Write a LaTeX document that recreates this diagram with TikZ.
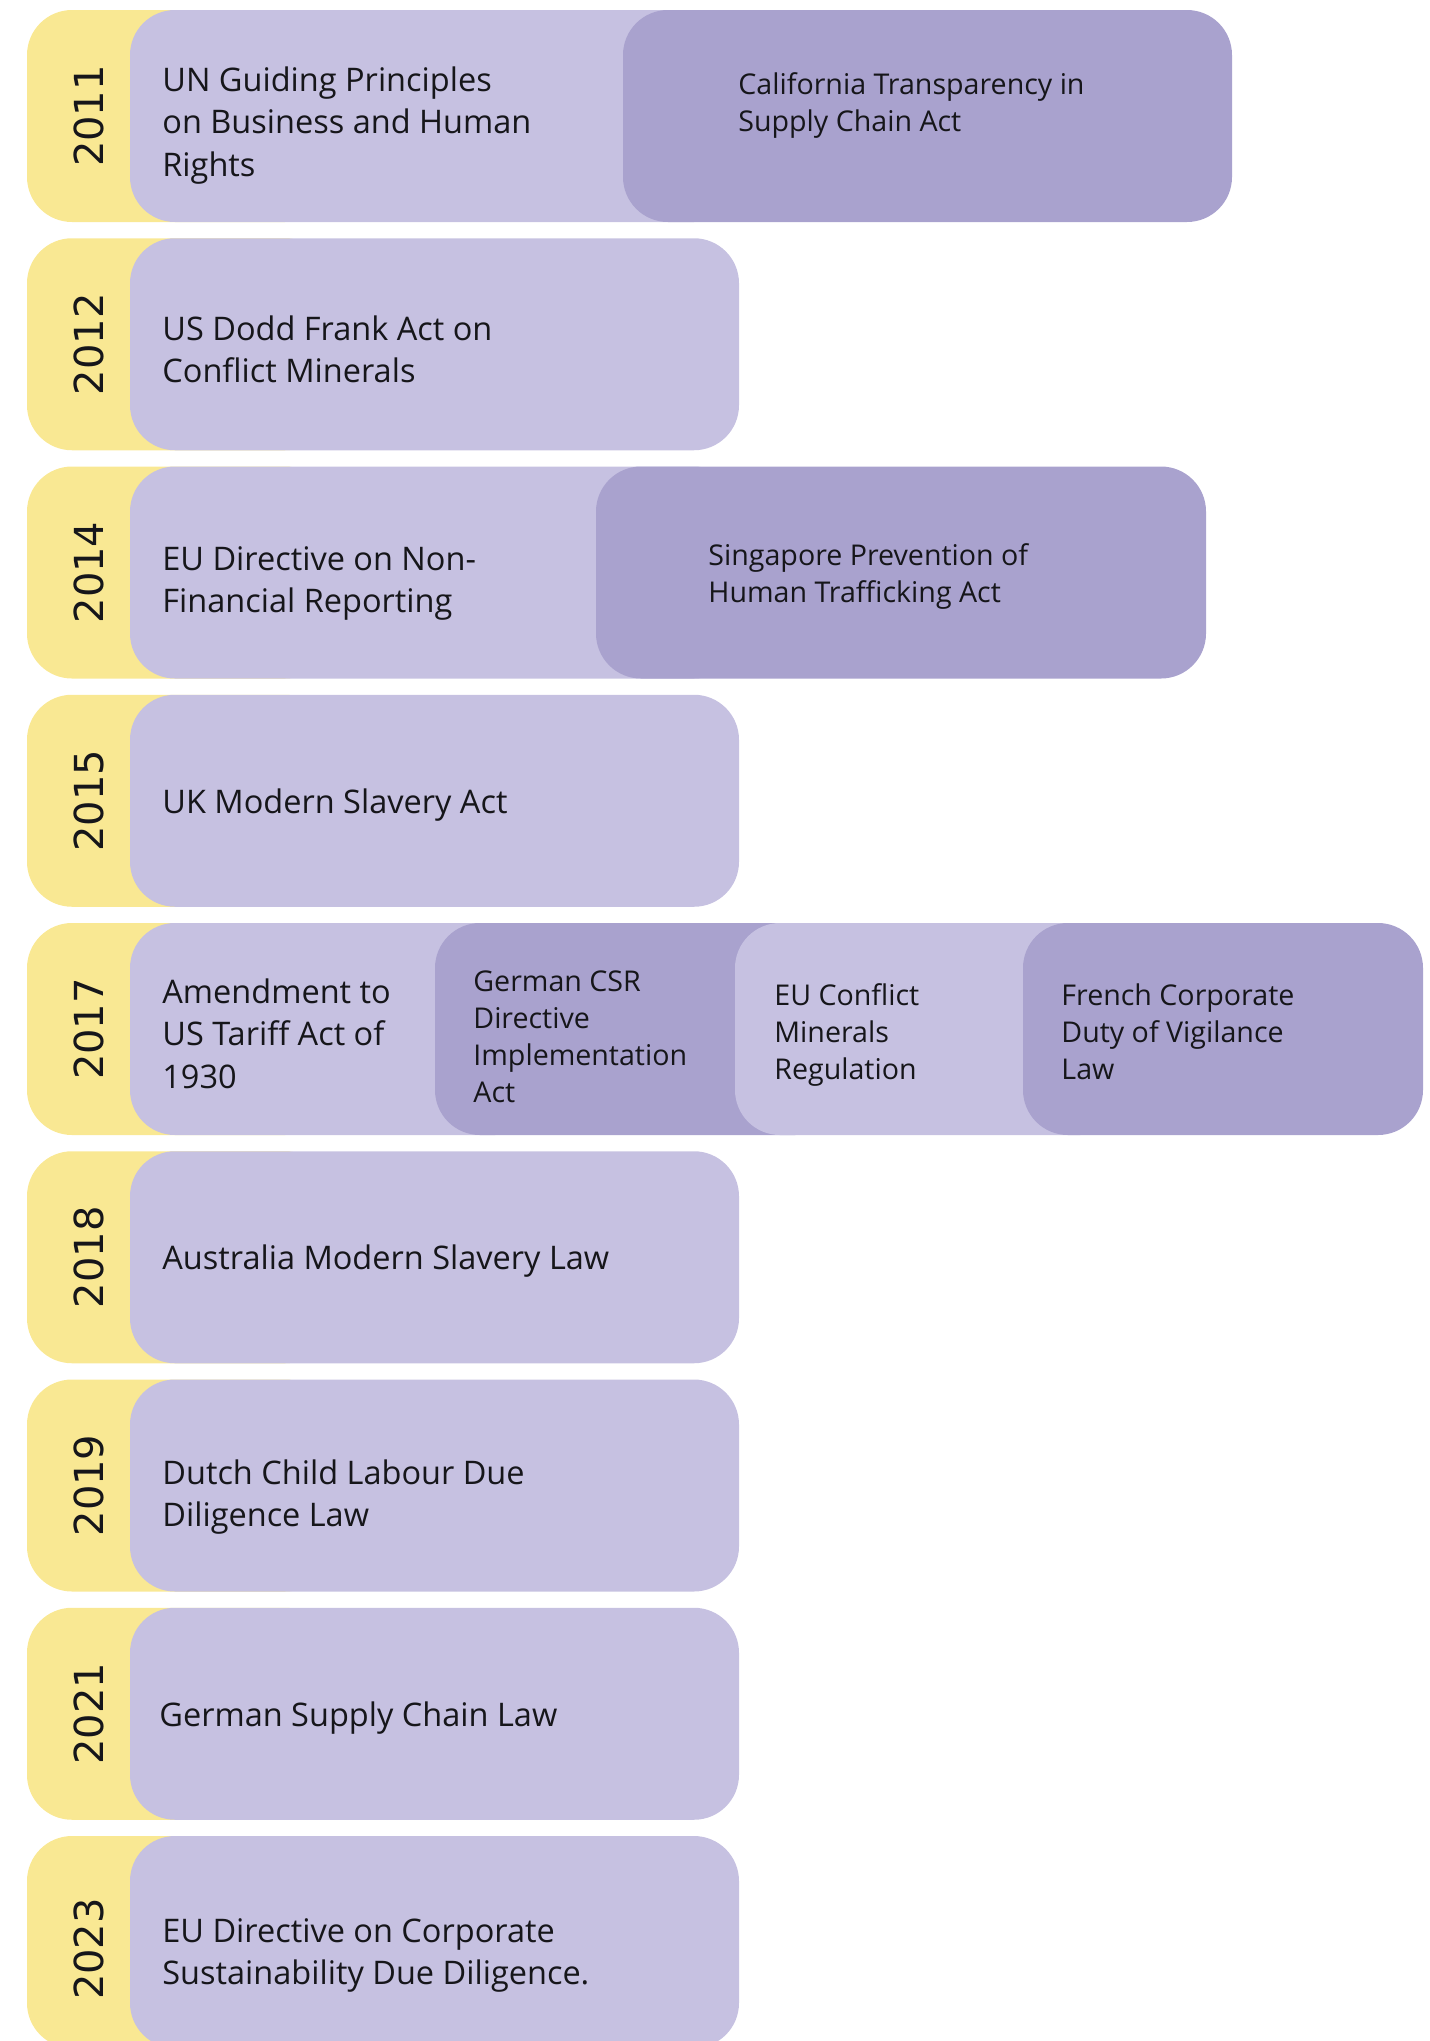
\documentclass[tikz,border=0pt]{standalone}
\usepackage{fontspec}
\setmainfont{Open Sans}
\newfontfamily\yearfont{DejaVu Sans}
\definecolor{yel}{RGB}{249,232,147}
\definecolor{lav}{RGB}{198,193,225}
\definecolor{dlav}{RGB}{169,162,206}
\definecolor{ink}{RGB}{22,22,26}
\newcommand{\mylines}[1]{\begin{tabular}[t]{@{}l@{}}#1\end{tabular}}
\tikzset{
  yearbox/.style={fill=yel, rounded corners=22.5pt},
  lightbox/.style={fill=lav, rounded corners=22.5pt},
  darkbox/.style={fill=dlav, rounded corners=22.5pt},
  yeartext/.style={rotate=90, anchor=center, inner sep=0pt, text=ink,
    font=\yearfont\fontsize{20}{24}\selectfont},
  maintext/.style={anchor=base west, inner sep=0pt, text=ink,
    font=\fontsize{16.25}{21.25}\selectfont},
  smalltext/.style={anchor=base west, inner sep=0pt, text=ink,
    font=\fontsize{14.3}{18.65}\selectfont},
}
\begin{document}
\begin{tikzpicture}[x=0.5pt,y=-0.5pt]
\useasboundingbox (0,0) rectangle (1430,2041);
\clip (0,0) rectangle (1430,2041);

% ---------- 2011 ----------
\path[yearbox]  (27,10) rectangle (330,222);
\path[lightbox] (130,10) rectangle (739,222);
\path[darkbox]  (623,10) rectangle (1232,222);
\node[yeartext] (y2011) at (89,116) {2011};
\node[maintext] (t2011a) at (162,91) {\mylines{UN Guiding Principles\\on Business and Human\\Rights}};
\node[smalltext] (t2011b) at (738,94) {\mylines{California Transparency in\\Supply Chain Act}};

% ---------- 2012 ----------
\path[yearbox]  (27,238.25) rectangle (330,450.25);
\path[lightbox] (130,238.25) rectangle (739,450.25);
\node[yeartext] (y2012) at (89,344.25) {2012};
\node[maintext] (t2012a) at (162,340) {\mylines{US Dodd Frank Act on\\Conflict Minerals}};

% ---------- 2014 ----------
\path[yearbox]  (27,466.5) rectangle (330,678.5);
\path[lightbox] (130,466.5) rectangle (739,678.5);
\path[darkbox]  (596,466.5) rectangle (1206,678.5);
\node[yeartext] (y2014) at (89,572.5) {2014};
\node[maintext] (t2014a) at (162,570) {\mylines{EU Directive on Non-\\Financial Reporting}};
\node[smalltext] (t2014b) at (708,565) {\mylines{Singapore Prevention of\\Human Trafficking Act}};

% ---------- 2015 ----------
\path[yearbox]  (27,694.75) rectangle (330,906.75);
\path[lightbox] (130,694.75) rectangle (739,906.75);
\node[yeartext] (y2015) at (89,800.75) {2015};
\node[maintext] (t2015a) at (162,813) {UK Modern Slavery Act};

% ---------- 2017 ----------
\path[yearbox]  (27,923) rectangle (330,1135);
\path[lightbox] (130,923) rectangle (540,1135);
\path[darkbox]  (435,923) rectangle (840,1135);
\path[lightbox] (735,923) rectangle (1125,1135);
\path[darkbox]  (1023,923) rectangle (1423,1135);
\node[yeartext] (y2017) at (89,1029) {2017};
\node[maintext] (t2017a) at (162,1003) {\mylines{Amendment to\\US Tariff Act of\\1930}};
\node[smalltext] (t2017b) at (473,991) {\mylines{German CSR\\Directive\\Implementation\\Act}};
\node[smalltext] (t2017c) at (774,1005) {\mylines{EU Conflict\\Minerals\\Regulation}};
\node[smalltext] (t2017d) at (1061,1005) {\mylines{French Corporate\\Duty of Vigilance\\Law}};

% ---------- 2018 ----------
\path[yearbox]  (27,1151.25) rectangle (330,1363.25);
\path[lightbox] (130,1151.25) rectangle (739,1363.25);
\node[yeartext] (y2018) at (89,1257.25) {2018};
\node[maintext] (t2018a) at (162,1269) {Australia Modern Slavery Law};

% ---------- 2019 ----------
\path[yearbox]  (27,1379.5) rectangle (330,1591.5);
\path[lightbox] (130,1379.5) rectangle (739,1591.5);
\node[yeartext] (y2019) at (89,1485.5) {2019};
\node[maintext] (t2019a) at (162,1484) {\mylines{Dutch Child Labour Due\\Diligence Law}};

% ---------- 2021 ----------
\path[yearbox]  (27,1607.75) rectangle (330,1819.75);
\path[lightbox] (130,1607.75) rectangle (739,1819.75);
\node[yeartext] (y2021) at (89,1713.75) {2021};
\node[maintext] (t2021a) at (159,1726) {German Supply Chain Law};

% ---------- 2023 ----------
\path[yearbox]  (27,1836) rectangle (330,2048);
\path[lightbox] (130,1836) rectangle (739,2048);
\node[yeartext] (y2023) at (89,1949) {2023};
\node[maintext] (t2023a) at (162,1942) {\mylines{EU Directive on Corporate\\Sustainability Due Diligence.}};
\end{tikzpicture}
\end{document}
